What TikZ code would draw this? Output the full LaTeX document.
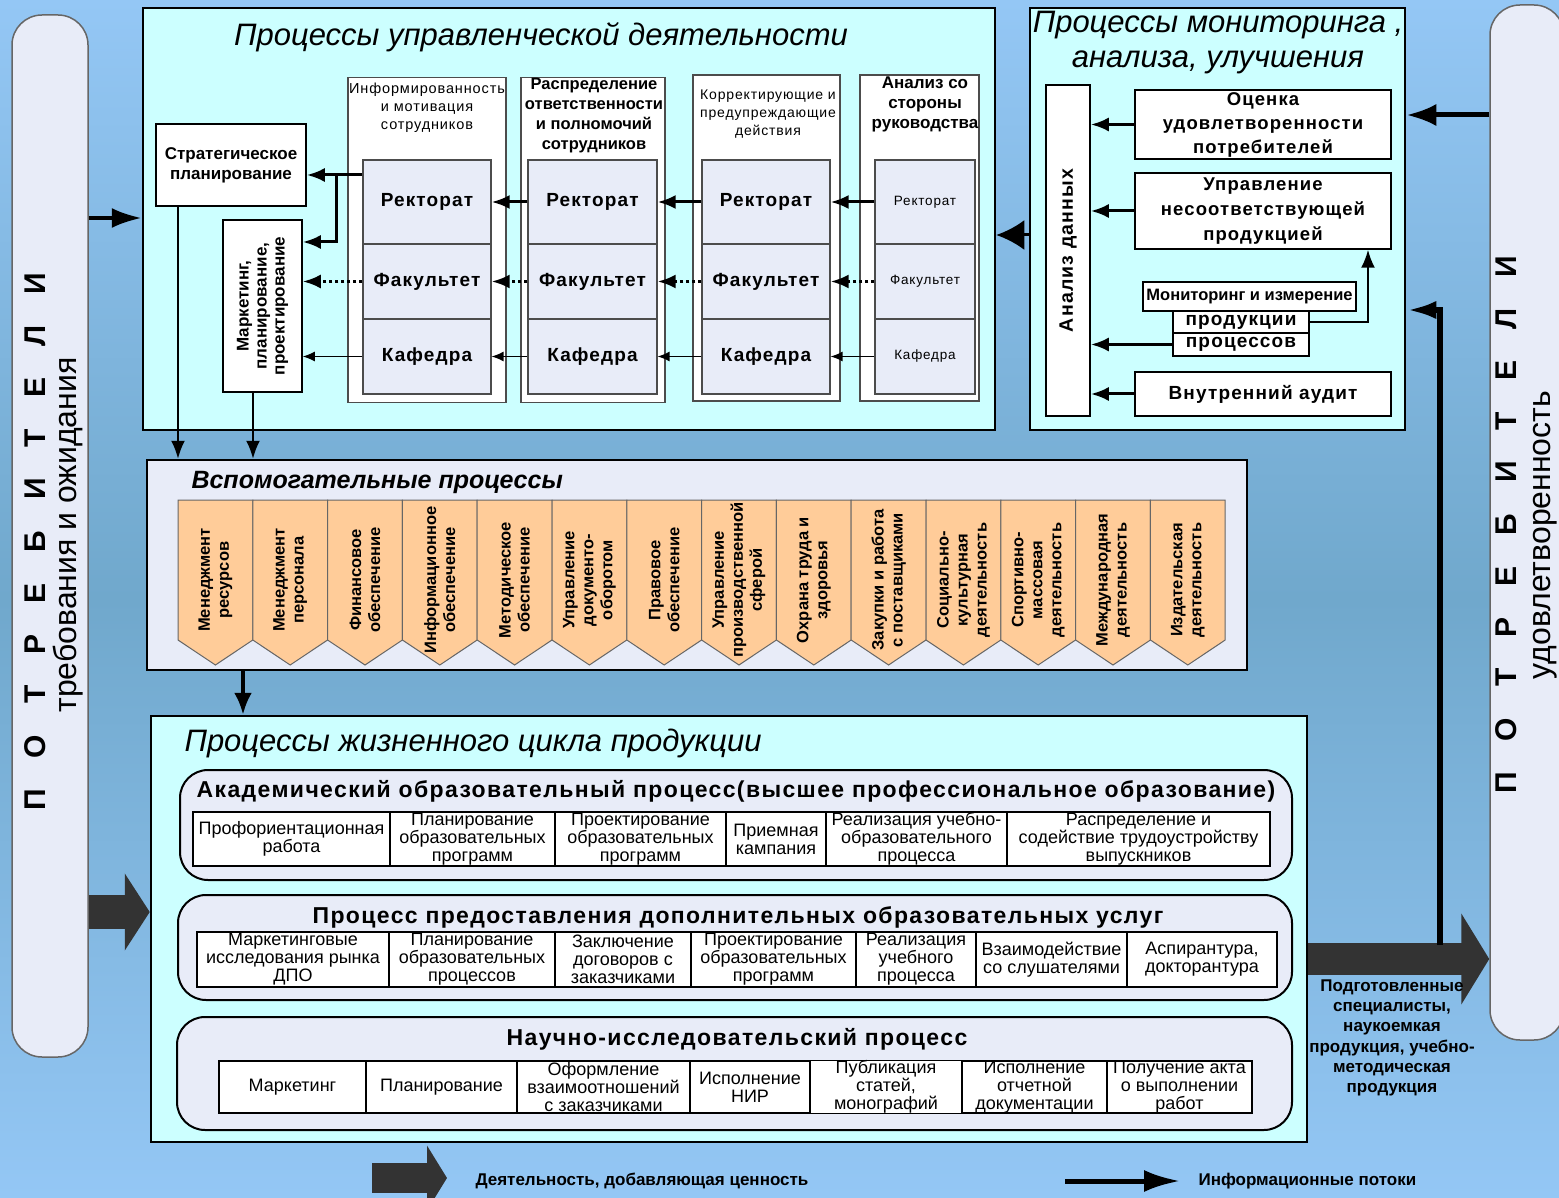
\documentclass[tikz,border=0pt]{standalone}
\usepackage{fontspec}
\setmainfont{Liberation Sans}
\newfontfamily\narrow[FakeStretch=0.85]{Liberation Sans}
\newfontfamily\spaced[LetterSpace=6]{Liberation Sans}
\usetikzlibrary{arrows.meta}
\definecolor{bglight}{RGB}{148, 199, 245}
\definecolor{bgdark}{RGB}{112, 168, 204}
\definecolor{cyanbg}{RGB}{204, 255, 255}
\definecolor{lav}{RGB}{232, 236, 248}
\definecolor{peach}{RGB}{255, 204, 153}
\definecolor{darkarr}{RGB}{51, 51, 51}
\newcommand{\fsz}[2]{\fontsize{#1}{#2}\selectfont}

\begin{document}
\begin{tikzpicture}[x=1pt, y=-1pt,
  pill/.style={draw=black!60, line width=1.5pt, fill=lav, rounded corners=30pt, inner sep=0},
  panel/.style={draw, line width=2.5pt, fill=cyanbg, inner sep=0},
  grp/.style={draw=black!70, line width=1.2pt, fill=white, inner sep=0},
  cell/.style={draw=black!70, line width=1.2pt, fill=lav, inner sep=1pt, align=center},
  box/.style={draw, line width=1.5pt, fill=white, inner sep=1pt, align=center},
  tcell/.style={draw, line width=1.2pt, fill=white, inner sep=0pt, align=center, font=\fsz{18}{18}},
  sub/.style={draw, line width=2pt, fill=lav, rounded corners=28pt, inner sep=0},
  chev/.style={draw=black!60, line width=1pt, fill=peach},
  flow/.style={-{Latex[length=18pt,width=14pt]}, line width=3pt},
  dotflow/.style={flow, dash pattern=on 3pt off 3pt},
  thinflow/.style={-{Latex[length=12pt,width=10pt]}, line width=1.3pt},
  value/.style={draw=darkarr, line width=34pt, -{Triangle[length=25pt,width=76pt]}}]

  \useasboundingbox (0,0) rectangle (1559,1198);
  \shade[top color=bglight, bottom color=bglight, middle color=bgdark] (0,0) rectangle (1559,1198);

  % customers
  \node[pill, minimum width=76, minimum height=1042] (lpill) at (50,536) {};
  \node[rotate=90, font=\bfseries\fsz{30}{34}] (lcust) at (35,542) {\spaceskip=31pt\relax П О Т Р Е Б И Т Е Л И};
  \node[rotate=90, font=\fsz{32}{34}] (lreq) at (68,535) {требования и ожидания};
  \node[pill, minimum width=74, minimum height=1035] (rpill) at (1527,522.5) {};
  \node[rotate=90, font=\bfseries\fsz{30}{34}] (rcust) at (1506,525) {\spaceskip=31pt\relax П О Т Р Е Б И Т Е Л И};
  \node[rotate=90, font=\fsz{32}{34}] (rsat) at (1545,535) {удовлетворенность};

  % management processes
  \node[panel, minimum width=852, minimum height=422] (mgmt) at (569,219) {};
  \node[font=\itshape\fsz{31}{34}] (mgmttl) at (541,37) {Процессы управленческой деятельности};
  \node[box, font=\bfseries\fsz{17}{20}, minimum width=150, minimum height=82] (strat) at (231,165) {Стратегическое\\планирование};
  \node[box, rotate=90, font=\bfseries\fsz{17}{18}, minimum width=172, minimum height=79] (mark) at (262.5,306) {Маркетинг,\\планирование,\\проектирование};

  \node[grp, minimum width=158, minimum height=325] (g1) at (427,240) {};
  \node[font=\spaced\fsz{14.5}{18}, align=center] (h1) at (427,108) {Информированность\\и мотивация\\сотрудников};
  \node[grp, minimum width=144, minimum height=325] (g2) at (593,240) {};
  \node[font=\bfseries\fsz{16.5}{20}, align=center] (h2) at (594,116) {Распределение\\ответственности\\и полномочий\\сотрудников};
  \node[grp, minimum width=147, minimum height=326] (g3) at (766.5,238) {};
  \node[font=\spaced\fsz{14}{18}, align=center] (h3) at (768,114) {Корректирующие и\\предупреждающие\\действия};
  \node[grp, minimum width=119, minimum height=326] (g4) at (919.5,238) {};
  \node[font=\bfseries\fsz{17}{20}, align=center] (h4) at (925,104) {Анализ со\\стороны\\руководства};

  \foreach \n/\cx/\cw/\cf in {1/427/128/{\spaced\bfseries\fsz{19}{20}}, 2/592.5/129/{\spaced\bfseries\fsz{19}{20}},
                              3/766/128/{\spaced\bfseries\fsz{19}{20}}, 4/925/100/{\spaced\fsz{13.5}{14}}} {
    \node[cell, font=\cf, minimum width=\cw, minimum height=84] (r\n) at (\cx,202) {Ректорат};
    \node[cell, font=\cf, minimum width=\cw, minimum height=75] (f\n) at (\cx,281.5) {Факультет};
    \node[cell, font=\cf, minimum width=\cw, minimum height=75] (k\n) at (\cx,356.5) {Кафедра};
  }
  \foreach \a/\b in {2/1, 3/2, 4/3} {
    \draw[flow] (r\a.west) -- (r\b.east);
    \draw[dotflow] (f\a.west) -- (f\b.east);
    \draw[thinflow] (k\a.west) -- (k\b.east);
  }
  \coordinate (split) at (336,175);
  \coordinate (split2) at (336,242);
  \draw[flow] (r1.west |- split) -- (strat.east |- split);
  \draw[flow] (split) |- (mark.south |- split2);
  \draw[dotflow] (f1.west) -- (f1.west -| mark.south);
  \draw[thinflow] (k1.west) -- (k1.west -| mark.south);

  % monitoring, analysis, improvement
  \node[panel, minimum width=375, minimum height=422] (mon) at (1217.5,219) {};
  \node[font=\itshape\fsz{31}{35}, align=center] (montl) at (1218,43) {Процессы мониторинга ,\\анализа, улучшения};
  \node[box, rotate=90, font=\spaced\bfseries\fsz{19.5}{20}, minimum width=331, minimum height=44] (ad) at (1068,250.5) {Анализ данных};
  \node[box, font=\spaced\bfseries\fsz{18.5}{24}, minimum width=256, minimum height=69] (ocen) at (1263,124.5) {Оценка\\удовлетворенности\\потребителей};
  \node[box, font=\spaced\bfseries\fsz{18.5}{25}, minimum width=256, minimum height=76] (upr) at (1263,211) {Управление\\несоответствующей\\продукцией};
  \node[box, font=\bfseries\fsz{16.5}{17}, minimum width=213, minimum height=29] (monit) at (1249.5,296.5) {Мониторинг и измерение};
  \node[box, font=\spaced\bfseries\fsz{19}{19}, minimum width=136, minimum height=22] (prod) at (1241,322) {продукции};
  \node[box, font=\spaced\bfseries\fsz{19}{19}, minimum width=136, minimum height=23] (proc) at (1241,344.5) {процессов};
  \node[box, font=\spaced\bfseries\fsz{19}{19}, minimum width=256, minimum height=44] (audit) at (1263,394) {Внутренний аудит};

  \draw[flow] (ocen.west) -- (ocen.west -| ad.south);
  \draw[flow] (upr.west) -- (upr.west -| ad.south);
  \draw[flow] (proc.west) -- (proc.west -| ad.south);
  \draw[flow] (audit.west) -- (audit.west -| ad.south);
  \coordinate (px) at (1368,0);
  \draw[flow, line width=2pt] (prod.east) -| (px |- upr.south);

  \coordinate (fb) at (1012,235);
  \draw[flow, -{Latex[length=28pt,width=30pt]}] (mon.west |- fb) -- (mgmt.east |- fb);

  % support processes
  \node[panel, fill=lav, minimum width=1100, minimum height=210] (aux) at (697,565) {};
  \node[anchor=west, font=\bfseries\itshape\fsz{25}{27}] (auxtl) at (188,482) {Вспомогательные процессы};
  \foreach \txt [count=\i, evaluate=\i as \xl using 178+(\i-1)*74.8] in
    {{Менеджмент\\ресурсов}, {Менеджмент\\персонала}, {Финансовое\\обеспечение},
     {Информационное\\обеспечение}, {Методическое\\обеспечение}, {Управление\\документо-\\оборотом},
     {Правовое\\обеспечение}, {Управление\\производственной\\сферой}, {Охрана труда и\\здоровья},
     {Закупки и работа\\с поставщиками}, {Социально-\\культурная\\деятельность},
     {Спортивно-\\массовая\\деятельность}, {Международная\\деятельность}, {Издательская\\деятельность}} {
    \draw[chev] (\xl,500) -- ++(74.8,0) -- ++(0,140) -- ++(-37.4,25) -- ++(-37.4,-25) -- cycle;
    \node[rotate=90, align=center, font=\bfseries\fsz{16.5}{19}] (s\i) at (\xl+37.4,580) {\txt};
  }

  % product life cycle
  \node[panel, minimum width=1156, minimum height=426] (life) at (729,929) {};
  \node[anchor=west, font=\itshape\fsz{31}{33}] (lifetl) at (181,743) {Процессы жизненного цикла продукции};

  \node[sub, minimum width=1112, minimum height=110] (acad) at (736,825) {};
  \node[font=\spaced\bfseries\fsz{23}{25}] (acadtl) at (736,791) {Академический образовательный процесс(высшее профессиональное образование)};
  \foreach \xa/\xb/\txt [count=\i] in {193/390/{Профориентационная\\работа}, 390/555/{Планирование\\образовательных\\программ},
      555/726/{Проектирование\\образовательных\\программ}, 726/826/{Приемная\\кампания},
      826/1007/{Реализация учебно-\\образовательного\\процесса}, 1007/1270/{Распределение и\\содействие трудоустройству\\выпускников}}
    \node[tcell, minimum width={(\xb-\xa)*1pt}, minimum height=54] (a\i) at ({(\xa+\xb)/2},839) {\txt};

  \node[sub, minimum width=1114, minimum height=105] (dop) at (735,947.5) {};
  \node[font=\spaced\bfseries\fsz{23}{25}] (doptl) at (738,917) {Процесс предоставления дополнительных образовательных услуг};
  \foreach \xa/\xb/\txt [count=\i] in {197/389/{Маркетинговые\\исследования рынка\\ДПО}, 389/555/{Планирование\\образовательных\\процессов},
      555/691/{Заключение\\договоров с\\заказчиками}, 691/856/{Проектирование\\образовательных\\программ},
      856/976/{Реализация\\учебного\\процесса}, 976/1127/{Взаимодействие\\со слушателями}, 1127/1277/{Аспирантура,\\докторантура}}
    \node[tcell, minimum width={(\xb-\xa)*1pt}, minimum height=55] (b\i) at ({(\xa+\xb)/2},959.5) {\txt};

  \node[sub, minimum width=1115, minimum height=113] (nir) at (734.5,1073.5) {};
  \node[font=\spaced\bfseries\fsz{23}{25}] (nirtl) at (737,1039) {Научно-исследовательский процесс};
  \foreach \xa/\xb/\txt [count=\i] in {219/366/{Маркетинг}, 366/517/{Планирование},
      517/690/{Оформление\\взаимоотношений\\с заказчиками}, 690/810/{Исполнение\\НИР},
      810/962/{Публикация\\статей,\\монографий}, 962/1107/{Исполнение\\отчетной\\документации},
      1107/1252/{Получение акта\\о выполнении\\работ}}
    \node[tcell, minimum width={(\xb-\xa)*1pt}, minimum height=52] (c\i) at ({(\xa+\xb)/2},1087) {\txt};

  % flows between the blocks
  \coordinate (inq) at (0,218);
  \draw[flow, line width=4pt, -{Latex[length=30pt,width=20pt]}] (lpill.east |- inq) -- (mgmt.west |- inq);
  \coordinate (rq) at (0,115);
  \draw[flow, line width=5pt, -{Latex[length=30pt,width=22pt]}] (rpill.west |- rq) -- (mon.east |- rq);
  \coordinate (sx) at (178,0);
  \coordinate (mx) at (253,0);
  \draw[flow, line width=2pt] (strat.south -| sx) -- (aux.north -| sx);
  \draw[flow, line width=2pt] (mark.west -| mx) -- (aux.north -| mx);
  \coordinate (ax) at (243,0);
  \draw[flow, line width=4pt, -{Latex[length=22pt,width=18pt]}] (aux.south -| ax) -- (life.north -| ax);

  \coordinate (vin) at (0,912);
  \draw[value] (lpill.east |- vin) -- (life.west |- vin);
  \coordinate (vout) at (0,959);
  \draw[value, line width=32pt, -{Triangle[length=28pt,width=90pt]}] (life.east |- vout) -- (rpill.west |- vout);
  \coordinate (fbk) at (1440,945);
  \coordinate (fbky) at (0,310);
  \draw[flow, line width=6pt, -{Latex[length=30pt,width=18pt]}] (fbk) |- (mon.east |- fbky);
  \node[font=\bfseries\fsz{17}{20.3}, align=center] (outtxt) at (1392,1038)
    {Подготовленные\\специалисты,\\наукоемкая\\продукция, учебно-\\методическая\\продукция};

  % legend
  \node[anchor=west, font=\bfseries\fsz{17}{19}] (lvtxt) at (472,1181) {Деятельность, добавляющая ценность};
  \coordinate (lv) at (372,1178);
  \draw[value, line width=30pt, -{Triangle[length=20pt,width=64pt]}] (lv) -- ([xshift=-25pt]lvtxt.west |- lv);
  \node[anchor=west, font=\bfseries\fsz{17}{19}] (litxt) at (1195,1181) {Информационные потоки};
  \coordinate (li) at (1065,1181);
  \draw[flow, line width=5pt, -{Latex[length=36pt,width=22pt]}] (li) -- ([xshift=-15pt]litxt.west);

\end{tikzpicture}
\end{document}
